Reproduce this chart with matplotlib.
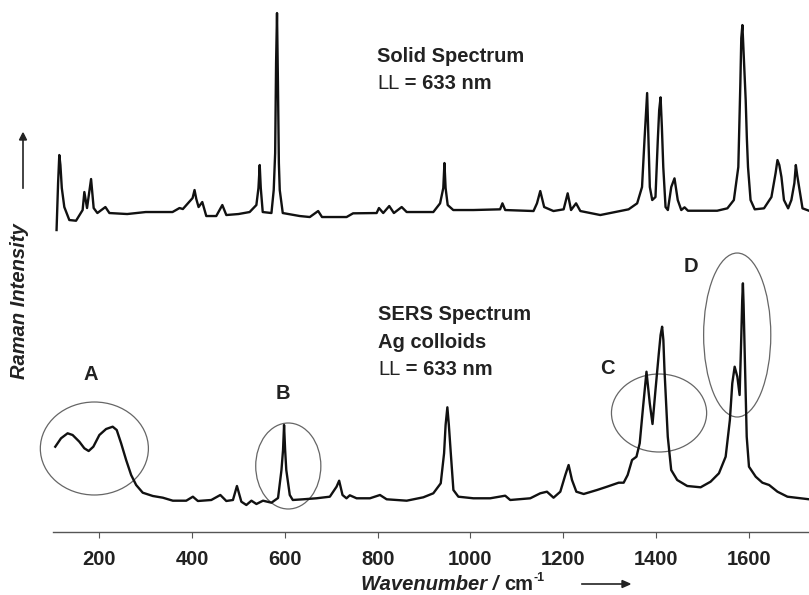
import matplotlib.pyplot as plt
from matplotlib.patches import Ellipse

# solid-state Raman spectrum (wavenumber / cm-1, intensity a.u. above baseline)
solid_wn = [107.7, 111, 113.6, 116, 119, 124.4, 135.2, 149.7, 163.9, 167.6,
            173.4, 182.1, 187.7, 195.7, 213, 221.6, 260, 300, 357.7, 372.8,
            380, 401, 405.2, 409, 413.9, 421.9, 430.5, 452, 465.1, 473.7,
            500, 524, 538.5, 543, 545.7, 548, 552.2, 571, 575.9, 579,
            581, 583, 585, 587, 588.9, 595.4, 632, 653.7, 671.7, 680,
            733, 747, 797.8, 802.8, 812, 825, 835, 851.8, 862.6, 920,
            934.6, 941.5, 944, 946.5, 951, 963, 1006.6, 1064, 1069, 1075,
            1136, 1143.5, 1150.6, 1159, 1179, 1201, 1209.7, 1217, 1227.8, 1237,
            1280, 1309, 1341, 1359.5, 1370, 1375.3, 1381, 1384, 1386.8, 1392,
            1399, 1404, 1407, 1410, 1412.8, 1415.8, 1420.7, 1425.7, 1433, 1440,
            1447, 1454.6, 1461.7, 1469, 1532, 1554, 1568, 1577.6, 1582, 1584,
            1586.4, 1589, 1593.5, 1596, 1598.5, 1604, 1613, 1633, 1649, 1658,
            1662, 1666, 1670.6, 1676, 1685, 1692, 1698.5, 1701.6, 1704.5, 1708.7,
            1716, 1730]
solid_int = [-17, 30, 58, 48, 25, 6, -7, -7.7, 3, 21,
             5, 34, 5, 0, 6, 0, -1, 1, 1, 5,
             4, 15, 23, 14, 6, 11, -3, -3, 8, -2,
             -1, 1, 8, 25, 48, 25, 1, 0, 23, 60,
             150, 200, 130, 50, 23, 0, -3, -4, 2, -4,
             -4, -0.3, 0, 5, 0, 7, 0, 6, 1, 1,
             9.7, 25, 50, 25, 8, 3, 3, 3.7, 9.7, 3,
             2, 9.7, 22, 6, 2, 3.7, 19.7, 3, 9.7, 2,
             -2, 0.7, 3.7, 9.7, 26, 73, 120, 73, 26, 13,
             16, 73, 103, 115.7, 86, 46, 6, 3, 26, 34.7,
             13, 3, 5.7, 2.3, 2.3, 4.7, 13, 46, 130, 175,
             188, 160, 113, 75, 46, 13, 3.7, 4.7, 16, 40,
             53, 48, 36, 13, 4.7, 13, 30, 48, 38, 26,
             4.7, 2.3]

# SERS spectrum on Ag colloids
sers_wn = [104.9, 117.3, 131.5, 142.3, 156.8, 167.6, 176.9, 187, 200, 214.5,
           228.7, 237.4, 246.9, 257.7, 268.5, 279.3, 293.5, 315.2, 336.8, 358.4,
           387.3, 401.6, 412.4, 441.3, 460.8, 473.7, 488, 496.6, 506.1, 516.9,
           527.8, 538.6, 552.8, 571, 585.2, 592.6, 596, 598.2, 600.5, 603,
           610.5, 617, 639.2, 668, 696.9, 711.4, 717, 724.2, 732.8, 740,
           754.6, 783.3, 805, 819.4, 862.6, 898.5, 920, 936, 943.2, 946.5,
           950.3, 953.5, 957.7, 963.3, 974, 1006.5, 1042.6, 1075, 1085.8, 1129,
           1150.6, 1165, 1179.2, 1193.8, 1204.6, 1211.7, 1219, 1228.4, 1244.2, 1273,
           1294.6, 1319.6, 1330.4, 1339, 1348.5, 1358, 1365, 1372.3, 1379.6, 1386.7,
           1392.6, 1399, 1406.2, 1410, 1413.3, 1416, 1418.4, 1425.5, 1432.9, 1445.8,
           1467.4, 1496.3, 1517.8, 1535.8, 1550.3, 1559.4, 1564.6, 1569.7, 1575.5, 1580.4,
           1584, 1586, 1587.5, 1589, 1591.4, 1595.7, 1600.6, 1615.1, 1629.5, 1644,
           1662, 1683.5, 1712.3, 1730.3]
sers_int = [53.3, 61.7, 66.7, 65, 58.3, 51.7, 49, 53.3, 65, 71,
            73.3, 70, 56.7, 40, 25, 15, 7.3, 4, 2.3, -0.7,
            -0.7, 3.3, -1, 0, 5, -1, 0, 14, -1.7, -5,
            -0.7, -4, -0.7, -2.7, 2, 30, 50, 75, 50, 30,
            5, 0, 0.7, 1.7, 3.3, 13.3, 19.3, 5, 1.7, 4.7,
            1.7, 1.7, 5, 0.7, -0.7, 2.7, 6.7, 16.7, 46.7, 75,
            92.7, 75, 46.7, 10, 3.3, 1.7, 1.7, 4.3, 0, 1.7,
            6.7, 8.3, 2.3, 8.3, 25, 35, 20, 8.3, 6, 10,
            13.3, 17.3, 17.3, 25, 40, 43.3, 56.7, 93.3, 128.3, 96.7,
            76, 110, 146.7, 165, 173.3, 160, 130, 63.3, 30, 20,
            14, 12.7, 18.3, 26.7, 43.3, 80, 116.7, 133.3, 123.3, 105,
            163.3, 200, 216.7, 195, 146.7, 63.3, 33.3, 23.3, 17.3, 15,
            8.3, 3.3, 1.7, 0.7]

xticks = [200, 400, 600, 800, 1000, 1200, 1400, 1600]

solid_offset = 319
sers_offset = 32

fig = plt.figure(figsize=(8.09, 5.95), dpi=100)
ax = fig.add_axes([0.0655, 0.1059, 0.9345, 0.894])

ax.plot(solid_wn, [v + solid_offset for v in solid_int], color='#111111', lw=1.7,
        solid_joinstyle='round')
ax.plot(sers_wn, [v + sers_offset for v in sers_int], color='#111111', lw=1.7,
        solid_joinstyle='round')

ax.set_xlim(100, 1730)
ax.set_ylim(0, 532)
for s in ['top', 'right', 'left']:
    ax.spines[s].set_visible(False)
ax.spines['bottom'].set_color('#555555')
ax.spines['bottom'].set_linewidth(1.0)
ax.set_yticks([])
ax.set_xticks(xticks)
ax.tick_params(axis='x', direction='out', length=4, width=0.8, color='#555555',
               pad=9, labelsize=14.5)
for lbl in ax.get_xticklabels():
    lbl.set_fontfamily('Liberation Sans')
    lbl.set_fontweight('bold')
    lbl.set_color('#222222')

font = dict(family='Liberation Sans', fontsize=14.5, color='#222222')


def ll_line(x, y):
    t = ax.text(x, y, 'LL', va='baseline', ha='left', **font)
    ax.annotate(' = 633 nm', xy=(1, 0), xycoords=t, va='bottom', ha='left',
                fontweight='bold', **font)


# spectrum captions
ax.text(798.5, 470, 'Solid Spectrum', va='baseline', fontweight='bold', **font)
ll_line(798.5, 443)
ax.text(800.6, 212, 'SERS Spectrum', va='baseline', fontweight='bold', **font)
ax.text(800.6, 184, 'Ag colloids', va='baseline', fontweight='bold', **font)
ll_line(800.6, 157)

# marked band regions: label, ellipse centre/size, letter position
regions = [('A', 189.2, 83.5, 233, 93, 180.6, 158),
           ('B', 607.3, 66, 140.4, 86, 595.4, 139),
           ('C', 1406.7, 119, 205.2, 78, 1295.4, 164),
           ('D', 1575.2, 197, 144.8, 164, 1474.7, 266)]
for name, cx, cy, w, h, lx, ly in regions:
    ax.add_patch(Ellipse((cx, cy), w, h, fill=False, ec='#666666', lw=0.9,
                         clip_on=False))
    ax.text(lx, ly, name, ha='center', va='center', fontweight='bold', **font)

# y title with upward arrow
fig.text(20 / 809, 1 - 301 / 595, 'Raman Intensity', rotation=90,
         ha='center', va='center', style='italic', fontweight='bold', **font)
fig.add_artist(plt.Line2D([23 / 809, 23 / 809], [1 - 188 / 595, 1 - 140 / 595],
                          color='#222222', lw=1.2))
fig.add_artist(plt.Polygon([[19.5 / 809, 1 - 140 / 595], [26.5 / 809, 1 - 140 / 595],
                            [23 / 809, 1 - 133 / 595]], color='#222222'))

# x title with rightward arrow
xl = fig.text(361 / 809, 1 - 585 / 595, 'Wavenumber / ', ha='left', va='center',
              style='italic', fontweight='bold', **font)
t2 = ax.annotate('cm', xy=(1, 0), xycoords=xl, va='bottom', ha='left',
                 fontweight='bold', annotation_clip=False, **font)
ax.annotate('-1', xy=(1, 0.55), xycoords=t2, va='bottom', ha='left',
            fontweight='bold', family='Liberation Sans', fontsize=9,
            color='#222222', annotation_clip=False)
fig.add_artist(plt.Line2D([582 / 809, 622 / 809], [1 - 584 / 595, 1 - 584 / 595],
                          color='#222222', lw=1.2))
fig.add_artist(plt.Polygon([[622 / 809, 1 - 580.5 / 595], [622 / 809, 1 - 587.5 / 595],
                            [630 / 809, 1 - 584 / 595]], color='#222222'))

fig.savefig('out.png', dpi=100)
